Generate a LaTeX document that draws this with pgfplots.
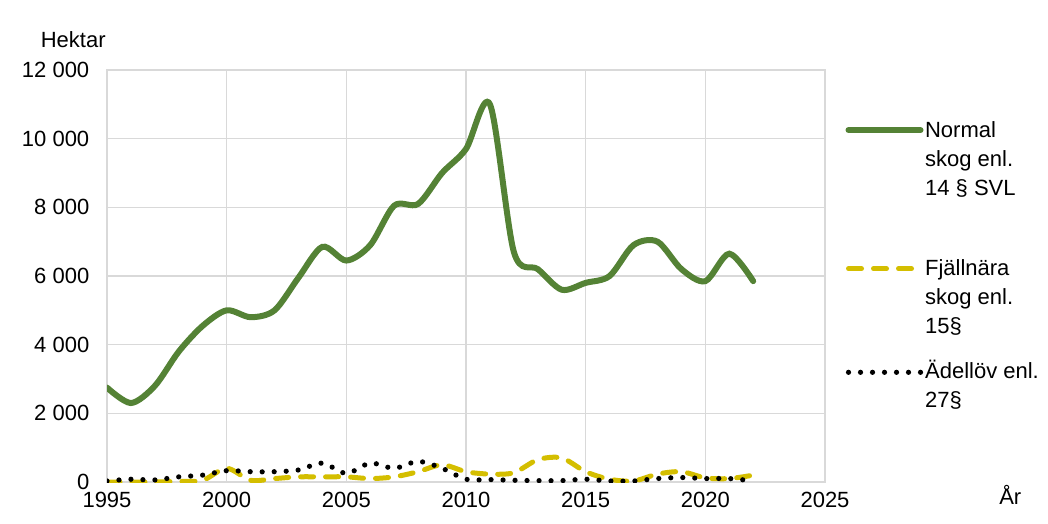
\documentclass[border=0pt]{standalone}
\usepackage{fontspec}
\setmainfont{Liberation Sans}
\usepackage{pgfplots}
\pgfplotsset{compat=1.18}
\definecolor{cgreen}{RGB}{84,130,53}
\definecolor{cyellow}{RGB}{212,190,0}
\definecolor{cgrid}{RGB}{217,217,217}
\pgfplotsset{legimg/.style={legend image code/.code={\draw[##1] (0pt,#1) -- (36pt,#1); \path (36.8pt,0pt);}}}
\begin{document}
\fontsize{11pt}{14.5pt}\selectfont
\begin{tikzpicture}
\path[use as bounding box] (-53.5pt,-21pt) rectangle (470.5pt,241pt);
\begin{axis}[
  at={(0,0)}, anchor=south west,
  scale only axis, width=359pt, height=206pt,
  xmin=1995, xmax=2025, ymin=0, ymax=12000,
  xtick={1995,2000,...,2025}, ytick={0,2000,...,12000},
  grid=major, major grid style={cgrid, line width=0.75pt},
  axis line style={cgrid, line width=0.75pt},
  major tick length=0pt,
  scaled y ticks=false,
  /pgf/number format/assume math mode=true,
  xticklabel style={/pgf/number format/1000 sep={}, yshift=-1pt},
  yticklabel style={/pgf/number format/1000 sep={\ }, xshift=-5pt},
  ylabel={Hektar},
  ylabel style={rotate=-90, at={(axis description cs:-0.047,1.073)}, anchor=center},
  xlabel={År},
  xlabel style={at={(axis description cs:1.258,-0.032)}, anchor=center},
  legend cell align=left,
  legend style={at={(axis description cs:1.028,0.876)}, anchor=north west, draw=none, fill=none,
    inner sep=0pt, row sep=11.5pt, nodes={align=left, inner sep=0pt}},
]
\addplot[cgreen, line width=3pt, smooth, line cap=round, legimg=24.5pt] coordinates {
(1995,2750)(1996,2300)(1997,2800)(1998,3800)(1999,4550)(2000,5000)(2001,4800)(2002,5000)
(2003,5950)(2004,6850)(2005,6450)(2006,6900)(2007,8050)(2008,8100)(2009,9000)(2010,9700)
(2011,11000)(2012,6700)(2013,6200)(2014,5600)(2015,5800)(2016,6000)(2017,6900)(2018,7000)
(2019,6200)(2020,5850)(2021,6650)(2022,5850)};
\addlegendentry{Normal\\skog enl.\\14 § SVL\\[4.5pt]\mbox{}}
\addplot[cyellow, line width=2.5pt, smooth, line cap=round, dash pattern=on 6.5pt off 6pt, legimg=14.8pt] coordinates {
(1995,0)(1996,0)(1997,0)(1998,20)(1999,50)(2000,400)(2001,50)(2002,100)
(2003,150)(2004,150)(2005,150)(2006,100)(2007,150)(2008,300)(2009,500)(2010,300)
(2011,230)(2012,270)(2013,650)(2014,700)(2015,300)(2016,80)(2017,30)(2018,230)
(2019,300)(2020,120)(2021,100)(2022,200)};
\addlegendentry{Fjällnära\\skog enl.\\15§}
\addplot[black, line width=2.6pt, smooth, line cap=round, dash pattern=on 0pt off 6pt, legimg=6.5pt] coordinates {
(1995,30)(1996,80)(1997,60)(1998,150)(1999,200)(2000,330)(2001,300)(2002,300)
(2003,350)(2004,550)(2005,250)(2006,550)(2007,400)(2008,600)(2009,400)(2010,80)
(2011,70)(2012,50)(2013,40)(2014,40)(2015,80)(2016,30)(2017,30)(2018,100)
(2019,130)(2020,100)(2021,100)(2022,30)};
\addlegendentry{Ädellöv enl.\\27§}
\end{axis}
\end{tikzpicture}
\end{document}
